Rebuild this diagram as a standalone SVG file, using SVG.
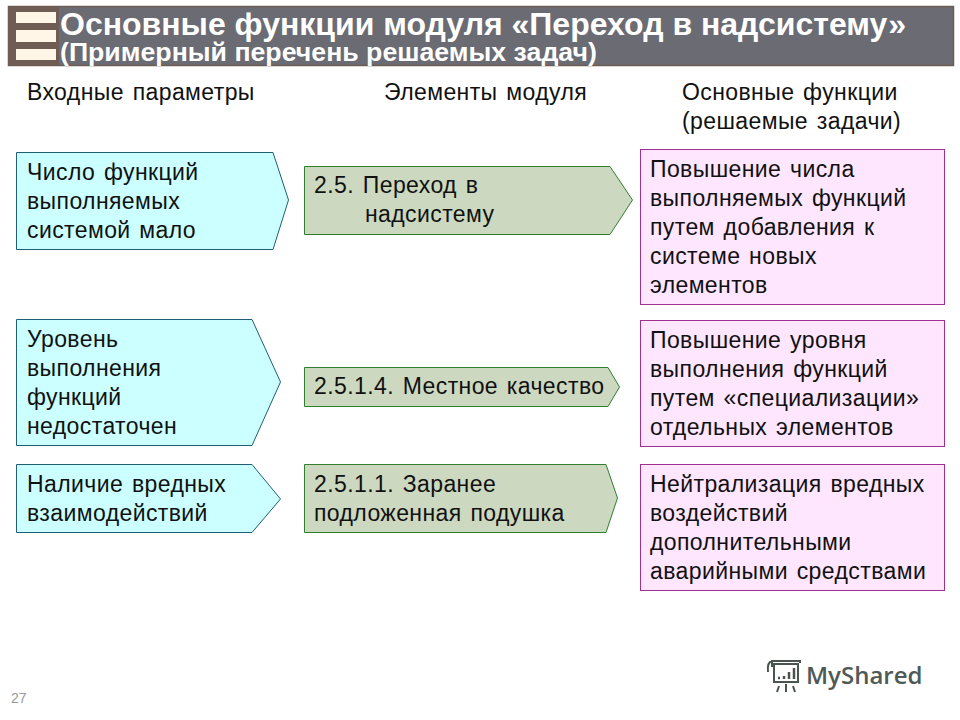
<svg xmlns="http://www.w3.org/2000/svg" width="960" height="720" viewBox="0 0 960 720">
<style>
text{font-family:"Liberation Sans",Arial,sans-serif;font-size:23px;letter-spacing:.4px;word-spacing:2px;fill:#111}
.blue{fill:#ccffff;stroke:#1f5f73;stroke-width:1}
.green{fill:#ccd9c0;stroke:#2f7f2f;stroke-width:1}
.pink{fill:#ffe6ff;stroke:#a0308f;stroke-width:1}
.h{fill:#fff;font-weight:bold;letter-spacing:0;word-spacing:0}
.bar{fill:#fff6e8}
</style>
<rect width="960" height="720" fill="#fff"/>
<g id="header">
<rect x="8.500" y="6.500" width="945" height="59" fill="#6a6b73" stroke="#6f5c52" stroke-width="1.500"/>
<rect x="9" y="7" width="50" height="58" fill="#6f5c52"/>
<rect class="bar" x="16" y="12" width="40" height="11"/>
<rect class="bar" x="16" y="30" width="40" height="12"/>
<rect class="bar" x="16" y="49" width="40" height="11"/>
<text class="h" x="60" y="35" style="font-size:32px">Основные функции модуля «Переход в надсистему»</text>
<text class="h" x="60" y="61" style="font-size:26.700px">(Примерный перечень решаемых задач)</text>
</g>
<g id="column-headers">
<text x="27" y="100">Входные параметры</text>
<text x="384" y="100">Элементы модуля</text>
<text x="682" y="100">Основные функции</text>
<text x="682" y="129">(решаемые задачи)</text>
</g>
<g id="input-1"><polygon class="blue" points="16.500,152.500 273,152.500 288.500,200 273,249.500 16.500,249.500"/>
<text x="27" y="180">Число функций</text><text x="27" y="209">выполняемых</text><text x="27" y="238">системой мало</text></g>
<g id="input-2"><polygon class="blue" points="16.500,319.500 252,319.500 280.500,382 252,445.500 16.500,445.500"/>
<text x="27" y="347">Уровень</text><text x="27" y="376">выполнения</text><text x="27" y="405">функций</text><text x="27" y="434">недостаточен</text></g>
<g id="input-3"><polygon class="blue" points="16.500,464.500 252,464.500 280.500,499 252,532.500 16.500,532.500"/>
<text x="27" y="492">Наличие вредных</text><text x="27" y="521">взаимодействий</text></g>
<g id="module-1"><polygon class="green" points="304.500,166.500 610,166.500 632.500,200 610,234.500 304.500,234.500"/>
<text x="314" y="193">2.5. Переход в</text><text x="365" y="222">надсистему</text></g>
<g id="module-2"><polygon class="green" points="304.500,367.500 608,367.500 619.500,387 608,406.500 304.500,406.500"/>
<text x="314" y="394">2.5.1.4. Местное качество</text></g>
<g id="module-3"><polygon class="green" points="304.500,464.500 606,464.500 617.500,498 606,532.500 304.500,532.500"/>
<text x="314" y="492">2.5.1.1. Заранее</text><text x="314" y="521">подложенная подушка</text></g>
<g id="function-1"><rect class="pink" x="640.500" y="149.500" width="304" height="155"/>
<text x="650" y="177">Повышение числа</text><text x="650" y="206">выполняемых функций</text><text x="650" y="235">путем добавления к</text><text x="650" y="264">системе новых</text><text x="650" y="293">элементов</text></g>
<g id="function-2"><rect class="pink" x="640.500" y="320.500" width="304" height="126"/>
<text x="650" y="348">Повышение уровня</text><text x="650" y="377">выполнения функций</text><text x="650" y="406">путем «специализации»</text><text x="650" y="435">отдельных элементов</text></g>
<g id="function-3"><rect class="pink" x="640.500" y="464.500" width="304" height="126"/>
<text x="650" y="492">Нейтрализация вредных</text><text x="650" y="521">воздействий</text><text x="650" y="550">дополнительными</text><text x="650" y="579">аварийными средствами</text></g>
<g id="page-number"><text x="11" y="703" style="font-size:14px;fill:#999;letter-spacing:0">27</text></g>
<g id="watermark" fill="none" stroke="#4a5550" stroke-width="2">
<path d="M772 667V661H800V663M772 661Q767 662 768 672M774 664H798V682H774Z"/>
<path d="M779 686L777 692M786 684V692M793 686L795 692"/>
<path d="M778 678H780M784 676V679M789 672V679M794 668V679" stroke-width="2.500"/>
<text x="806" y="684" style="font-size:24px;font-weight:600;letter-spacing:0;fill:#4f5a56;stroke:none;font-family:'Open Sans',sans-serif">MyShared</text>
</g>
</svg>
